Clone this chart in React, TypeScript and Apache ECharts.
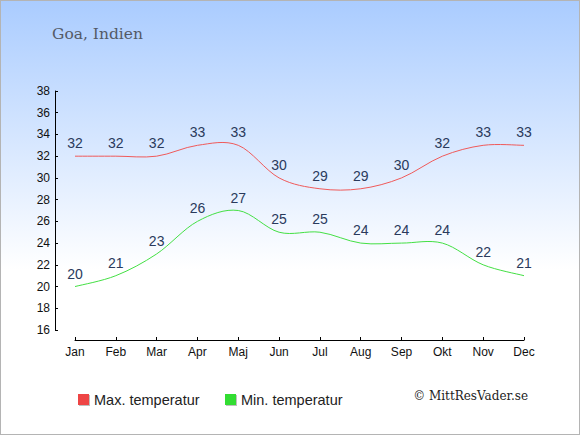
import React, { useEffect, useRef } from "react";
import * as echarts from "echarts";

const months = ["Jan", "Feb", "Mar", "Apr", "Maj", "Jun", "Jul", "Aug", "Sep", "Okt", "Nov", "Dec"];
const maxTemp = [32, 32, 32, 33, 33, 30, 29, 29, 30, 32, 33, 33];
const minTemp = [20, 21, 23, 26, 27, 25, 25, 24, 24, 24, 22, 21];
const yMin = 16;
const yMax = 38;
const yStep = 2;
const titleText = "Goa, Indien";
const maxName = "Max. temperatur";
const minName = "Min. temperatur";
const credit = "© MittResVader.se";

const sans = "'Liberation Sans', Arial, sans-serif";
const serif = "'DejaVu Serif', serif";

function splineSeries(values: number[], stroke: string) {
  return {
    type: "custom",
    name: "_curve_" + stroke,
    silent: true,
    data: values.map((v, i) => [i, v]),
    renderItem: (params: any, api: any) => {
      if (params.dataIndex !== 0) return null;
      const pts = values.map((v, i) => api.coord([i, v]));
      const n = pts.length;
      let d = "M" + pts[0][0] + " " + pts[0][1];
      for (let i = 0; i < n - 1; i++) {
        const p0 = pts[Math.max(0, i - 1)];
        const p1 = pts[i];
        const p2 = pts[i + 1];
        const p3 = pts[Math.min(n - 1, i + 2)];
        const c1x = p1[0] + (p2[0] - p0[0]) / 6;
        const c1y = p1[1] + (p2[1] - p0[1]) / 6;
        const c2x = p2[0] - (p3[0] - p1[0]) / 6;
        const c2y = p2[1] - (p3[1] - p1[1]) / 6;
        d += " C" + c1x + " " + c1y + " " + c2x + " " + c2y + " " + p2[0] + " " + p2[1];
      }
      return {
        type: "path",
        shape: { pathData: d },
        style: { fill: "none", stroke, lineWidth: 1 },
      };
    },
  };
}

export default function App() {
  const ref = useRef<HTMLDivElement>(null);
  useEffect(() => {
    document.body.style.margin = "0";
    const chart = echarts.init(ref.current!, null, { renderer: "svg" });
    const labelStyle = {
      show: true,
      position: "top" as const,
      distance: 6,
      color: "#2a3a5c",
      fontSize: 14,
      fontFamily: sans,
    };
    const legendBase = {
      top: 386,
      icon: "rect",
      itemWidth: 11,
      itemHeight: 11,
      textStyle: { fontFamily: sans, fontSize: 14.5, color: "#222" },
    };
    const iconStyle = (color: string) => ({
      color,
      opacity: 1,
      shadowColor: "rgba(0,0,0,0.25)",
      shadowOffsetX: 1,
      shadowOffsetY: 1,
      shadowBlur: 0,
    });
    chart.setOption({
      animation: false,
      backgroundColor: "transparent",
      title: {
        text: titleText,
        left: 46,
        top: 20,
        textStyle: { fontFamily: serif, fontSize: 15.5, fontWeight: "normal", color: "#545a66" },
      },
      graphic: [
        {
          type: "text",
          right: 51,
          top: 389,
          style: { text: credit, font: "12px " + serif, fill: "#222" },
        },
      ],
      legend: [
        { ...legendBase, data: [{ name: maxName, itemStyle: iconStyle("#ee4444") }], left: 72 },
        { ...legendBase, data: [{ name: minName, itemStyle: iconStyle("#33dd33") }], left: 219 },
      ],
      grid: { left: 74, right: 55, top: 90, bottom: 104, containLabel: false },
      xAxis: {
        type: "category",
        data: months,
        boundaryGap: false,
        offset: 10,
        axisLine: { lineStyle: { color: "#000", width: 1 } },
        axisTick: { show: true, inside: true, length: 3, alignWithLabel: true, lineStyle: { color: "#000" } },
        axisLabel: { color: "#111", fontSize: 12, fontFamily: sans, margin: 6 },
        splitLine: { show: false },
      },
      yAxis: {
        type: "value",
        min: yMin,
        max: yMax,
        interval: yStep,
        offset: 20,
        axisLine: { show: true, lineStyle: { color: "#000", width: 1 } },
        axisTick: { show: true, inside: true, length: 3, lineStyle: { color: "#000" } },
        axisLabel: { color: "#111", fontSize: 12, fontFamily: sans, margin: 5 },
        splitLine: { show: false },
      },
      series: [
        {
          name: maxName,
          type: "line",
          data: maxTemp,
          symbol: "circle",
          symbolSize: 0,
          showSymbol: true,
          itemStyle: { color: "#ee4444" },
          lineStyle: { width: 0, color: "rgba(0,0,0,0)" },
          label: labelStyle,
        },
        {
          name: minName,
          type: "line",
          data: minTemp,
          symbol: "circle",
          symbolSize: 0,
          showSymbol: true,
          itemStyle: { color: "#33dd33" },
          lineStyle: { width: 0, color: "rgba(0,0,0,0)" },
          label: labelStyle,
        },
        splineSeries(maxTemp, "#f05a5a"),
        splineSeries(minTemp, "#44e044"),
      ],
    });
    return () => chart.dispose();
  }, []);
  return (
    <div
      style={{
        position: "absolute",
        left: 0,
        top: 0,
        width: 580,
        height: 435,
        boxSizing: "border-box",
        border: "1px solid #b4b4b4",
        background: "linear-gradient(to bottom, #aaccff 0%, #ffffff 62%, #ffffff 100%)",
      }}
    >
      <div ref={ref} style={{ width: 578, height: 433 }} />
    </div>
  );
}
